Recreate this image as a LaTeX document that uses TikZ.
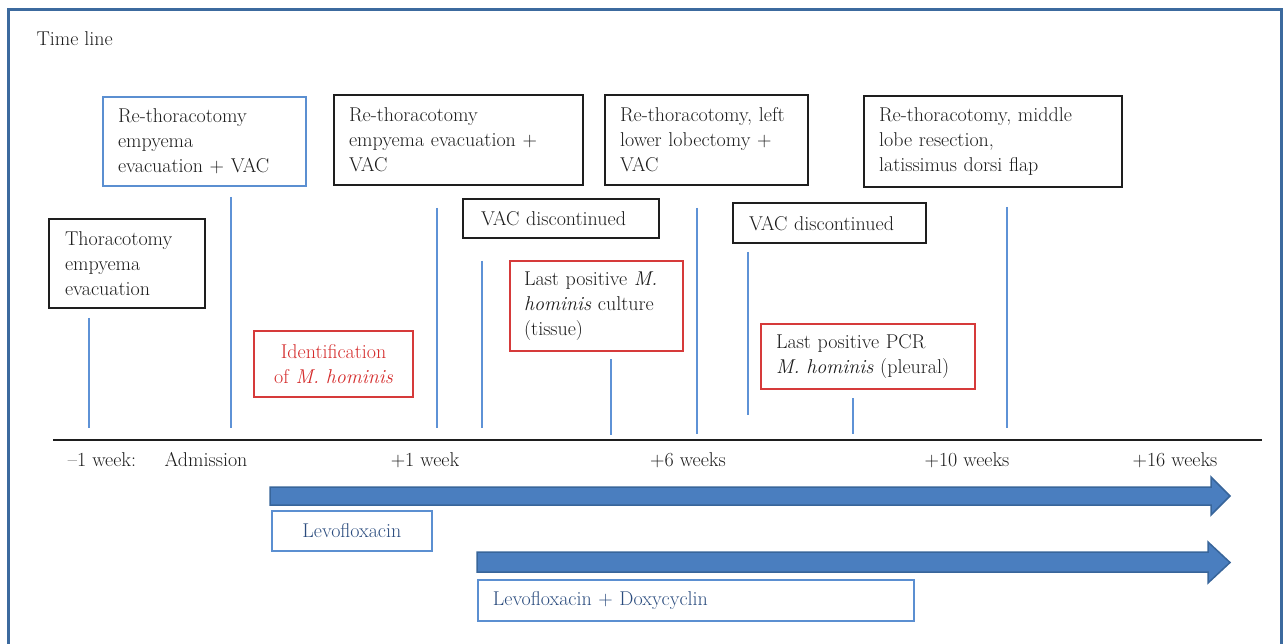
\documentclass[tikz,border=0pt]{standalone}
\usepackage{fontspec}
\definecolor{frameblue}{HTML}{3C6A9E}
\definecolor{lineblue}{HTML}{5E92D6}
\definecolor{boxblue}{HTML}{5B8FD1}
\definecolor{boxred}{HTML}{D63A3A}
\definecolor{textred}{HTML}{D42B2B}
\definecolor{boxblack}{HTML}{1E1E1E}
\definecolor{textgray}{HTML}{1C1C1C}
\definecolor{drugtext}{HTML}{2B4C7E}
\definecolor{drugfill}{HTML}{4A7EBF}
\definecolor{drugedge}{HTML}{38659A}
\newcommand{\tlfont}{\fontsize{20}{25}\selectfont}

\tikzset{
  event/.style={draw=boxblack, line width=2.2pt, anchor=north west, align=left,
    inner xsep=15pt, inner ysep=0pt, font=\tlfont, text=textgray},
  eventblue/.style={event, draw=boxblue},
  finding/.style={event, draw=boxred},
  drugbox/.style={event, draw=boxblue, line width=1.8pt, text=drugtext},
  tick/.style={draw=lineblue, line width=2pt},
  axis/.style={draw=boxblack, line width=2pt},
  stamp/.style={font=\tlfont, text=textgray},
  drug/.style={fill=drugfill, draw=drugedge, line width=1.5pt}
}

\begin{document}
\begin{tikzpicture}[x=1pt, y=-1pt]
\useasboundingbox (0,0) rectangle (1285,644);
% frame
\draw[frameblue, line width=3pt] (8,650) -- (8,10) -- (1281,10) -- (1281,650);
\node[stamp, anchor=base west] (title) at (33,46) {Time line};

% events above the axis
\node[event, text width=124pt, minimum height=89pt, inner xsep=16pt] (thor) at (48,218)
  {Thoracotomy\\empyema\\evacuation};
\node[eventblue, text width=173pt, minimum height=89pt] (rethor1) at (102,96)
  {Re-thoracotomy\\empyema\\evacuation + VAC};
\node[event, text width=219pt, minimum height=90pt] (rethor2) at (333,94)
  {Re-thoracotomy\\empyema evacuation +\\VAC};
\node[event, text width=173pt, minimum height=90pt] (rethor3) at (604,94)
  {Re-thoracotomy, left\\lower lobectomy +\\VAC};
\node[event, text width=228pt, minimum height=91pt] (rethor4) at (863,95)
  {Re-thoracotomy, middle\\lobe resection,\\latissimus dorsi flap};
\node[event, text width=160pt, minimum height=39pt, inner xsep=18pt] (vacoff1) at (462,198)
  {VAC discontinued};
\node[event, text width=161pt, minimum height=40pt, inner xsep=16pt] (vacoff2) at (732,202)
  {VAC discontinued};
\node[finding, text width=145pt, minimum height=90pt, inner xsep=14pt] (culture) at (509,260)
  {Last positive \textit{M.}\\\textit{hominis} culture\\(tissue)};
\node[finding, text width=129pt, minimum height=66pt, align=center, text=textred] (ident) at (253,330)
  {Identification\\of \textit{M. hominis}};
\node[finding, text width=184pt, minimum height=65pt] (pcr) at (760,323)
  {Last positive PCR\\\textit{M. hominis} (pleural)};

% ticks
\foreach \x/\ya/\yb [count=\i] in {89/318/428, 231/197/428, 437/208/428, 482/261/428,
    611/359/435, 697/208/434, 748/252/415, 853/398/434, 1007/207/428}
{
  \coordinate (top\i) at (\x,\ya);
  \coordinate (bot\i) at (\x,\yb);
  \draw[tick] (top\i) -- (bot\i);
}

% axis
\coordinate (axisL) at (53,440);
\coordinate (axisR) at (1262,440);
\draw[axis] (axisL) -- (axisR);
\node[stamp] (wk0) at (102,460) {--1 week:};
\node[stamp] (adm) at (206,460) {Admission};
\node[stamp] (wk1) at (425,460) {+1 week};
\node[stamp] (wk6) at (688,460) {+6 weeks};
\node[stamp] (wk10) at (967,460) {+10 weeks};
\node[stamp] (wk16) at (1175,460) {+16 weeks};

% treatment
\filldraw[drug] (270,487) -- (1211,487) -- (1211,477) -- (1230,496) -- (1211,515)
  -- (1211,505) -- (270,505) -- cycle;
\filldraw[drug] (477,552) -- (1208,552) -- (1208,542) -- (1230,562.5) -- (1208,583)
  -- (1208,572) -- (477,572) -- cycle;
\node[drugbox, text width=130pt, minimum height=40pt, align=center] (levo) at (271,510)
  {Levofloxacin};
\node[drugbox, text width=406pt, minimum height=41pt] (levodoxy) at (477,579)
  {Levofloxacin + Doxycyclin};
\end{tikzpicture}
\end{document}
